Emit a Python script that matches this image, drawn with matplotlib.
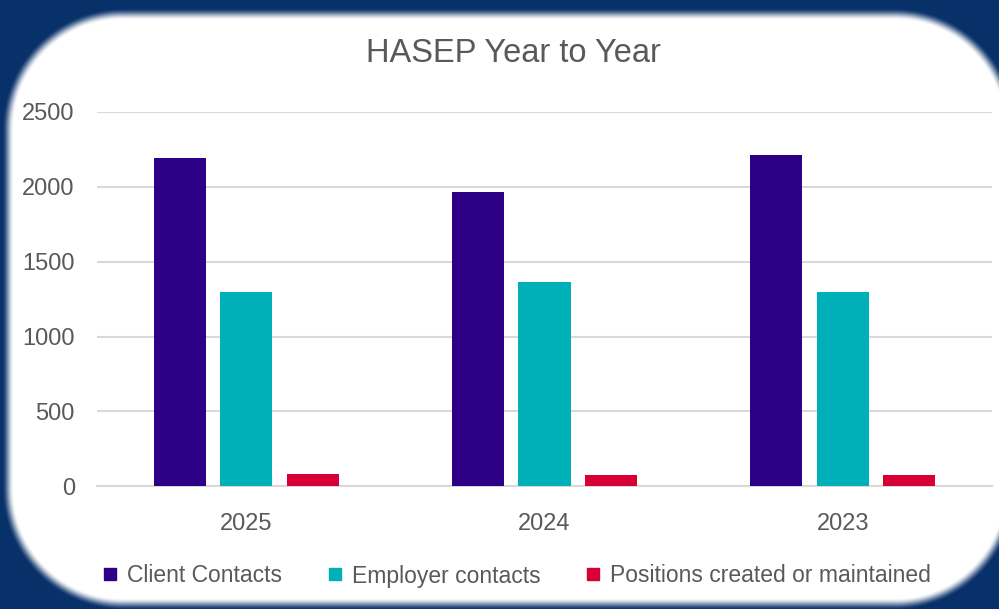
import numpy as np
import matplotlib
matplotlib.use('Agg')
import matplotlib.pyplot as plt
from matplotlib.lines import Line2D

# data
years = ['2025', '2024', '2023']
series = ['Client Contacts', 'Employer contacts', 'Positions created or maintained']
client = [2190, 1965, 2215]
employer = [1300, 1365, 1300]
positions = [82, 73, 73]
colors = ['#2E0085', '#00B0B9', '#D60036']

plt.rcParams['font.family'] = ['Liberation Sans', 'DejaVu Sans']
text_col = '#595959'

W, H = 999, 609
fig = plt.figure(figsize=(W / 100, H / 100), dpi=100)

# background: navy with soft-edged white rounded panel
bg = fig.add_axes([0, 0, 1, 1])
yy, xx = np.mgrid[0:H, 0:W] + 0.5
x0, x1, y0, y1, r = 8, 1010, 14, 604, 115
cx = np.clip(xx, x0 + r, x1 - r)
cy = np.clip(yy, y0 + r, y1 - r)
d = np.hypot(xx - cx, yy - cy) - r
t = np.clip((d + 6) / 12, 0, 1)
t = t * t * (3 - 2 * t)
navy = np.array([8, 48, 105]) / 255
img = (1 - t)[..., None] * np.ones(3) + t[..., None] * navy
bg.imshow(img, extent=[0, W, H, 0], aspect='auto', interpolation='bilinear')
bg.axis('off')

ax = fig.add_axes([97 / W, 1 - 486.3 / H, (992 - 97) / W, (486.3 - 112) / H])
ax.patch.set_alpha(0)

x = np.arange(len(years))
pitch = 0.223
width = 0.175
for i, (vals, name) in enumerate(zip([client, employer, positions], series)):
    ax.bar(x + (i - 1) * pitch, vals, width, color=colors[i], label=name, zorder=3)

ax.set_xlim(-0.5, len(years) - 0.5)
ax.set_ylim(0, 2500)
ax.set_yticks(np.arange(0, 2501, 500))
ax.set_xticks(x)
ax.set_xticklabels(years)
ax.yaxis.grid(True, color='#d9d9d9', linewidth=1.5, zorder=0)
ax.set_axisbelow(True)
for s in ['top', 'right', 'left']:
    ax.spines[s].set_visible(False)
ax.spines['bottom'].set_color('#d9d9d9')
ax.spines['bottom'].set_linewidth(1.5)
ax.tick_params(axis='both', length=0, labelsize=17, colors=text_col)
ax.tick_params(axis='x', pad=19)
ax.tick_params(axis='y', pad=16)

fig.text(0.5135, 1 - 54 / H, 'HASEP Year to Year', ha='center', va='center',
         fontsize=23.5, color=text_col)

handles = [Line2D([], [], marker='s', linestyle='none', markersize=9,
                  markerfacecolor=c, markeredgecolor=c) for c in colors]
fig.legend(handles, series, loc='center', bbox_to_anchor=(0.5175, 1 - 576 / H),
           ncol=3, frameon=False, fontsize=16.5, handlelength=0.6,
           handletextpad=0.45, columnspacing=2.0, labelcolor=text_col)

fig.savefig('out.png', dpi=100)
